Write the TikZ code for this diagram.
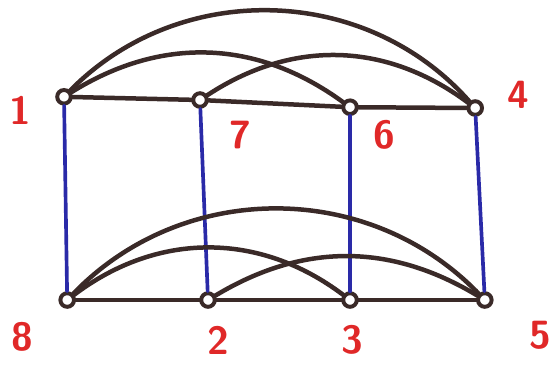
\documentclass[tikz,border=0pt]{standalone}
\usepackage{tikz}
\definecolor{inkbrown}{HTML}{3A2A28}
\definecolor{inkblue}{HTML}{2A2AA8}
\definecolor{inkred}{HTML}{E02828}

\begin{document}
\begin{tikzpicture}[
    vertex/.style={draw=inkbrown, circle, line width=2.8pt, minimum size=0.34cm, inner sep=0pt, fill=white},
    num/.style={text=inkred, font=\sffamily\bfseries\fontsize{28}{30}\selectfont},
    edge/.style={draw=inkbrown, line width=3.2pt, line cap=round},
    rung/.style={draw=inkblue, line width=2.6pt, line cap=round}
]
\useasboundingbox (0,0) rectangle (13.95,-9.2);

% Top row
\node[vertex] (n1) at (1.6,-2.42) {};
\node[vertex] (n7) at (5.0,-2.5) {};
\node[vertex] (n6) at (8.75,-2.68) {};
\node[vertex] (n4) at (11.88,-2.7) {};

% Bottom row
\node[vertex] (n8) at (1.68,-7.5) {};
\node[vertex] (n2) at (5.2,-7.5) {};
\node[vertex] (n3) at (8.75,-7.5) {};
\node[vertex] (n5) at (12.12,-7.5) {};

% Labels
\node[num] (l1) at (0.5,-2.75) {1};
\node[num] (l7) at (6.0,-3.38) {7};
\node[num] (l6) at (9.62,-3.38) {6};
\node[num] (l4) at (12.95,-2.38) {4};
\node[num] (l8) at (0.55,-8.42) {8};
\node[num] (l2) at (5.45,-8.5) {2};
\node[num] (l3) at (8.8,-8.5) {3};
\node[num] (l5) at (13.5,-8.38) {5};

% Blue rungs
\draw[rung] (n1) -- (n8);
\draw[rung] (n7) -- (n2);
\draw[rung] (n6) -- (n3);
\draw[rung] (n4) -- (n5);

% Top edges
\draw[edge] (n1) -- (n7);
\draw[edge] (n7) -- (n6);
\draw[edge] (n6) -- (n4);
\draw[edge] (n1) to[bend left=47] (n4);
\draw[edge] (n1) to[bend left=34] (n6);
\draw[edge] (n7) to[bend left=35] (n4);

% Bottom edges
\draw[edge] (n8) -- (n2);
\draw[edge] (n2) -- (n3);
\draw[edge] (n3) -- (n5);
\draw[edge] (n8) to[bend left=46] (n5);
\draw[edge] (n8) to[bend left=37] (n3);
\draw[edge] (n2) to[bend left=31] (n5);

\end{tikzpicture}
\end{document}
